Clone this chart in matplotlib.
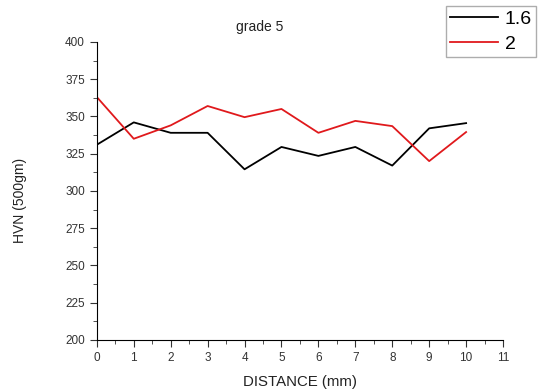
import matplotlib
matplotlib.use("Agg")
import matplotlib.pyplot as plt
from matplotlib.ticker import MultipleLocator

plt.rcParams['font.family'] = ['Liberation Sans', 'DejaVu Sans']

distance = [0, 1, 2, 3, 4, 5, 6, 7, 8, 9, 10]
hvn_16 = [331, 346, 339, 339, 314.5, 329.5, 323.5, 329.5, 317, 342, 345.5]
hvn_2 = [363, 335, 344, 357, 349.5, 355, 339, 347, 343.5, 320, 339.5]
labels = ["1.6", "2"]

fig = plt.figure(figsize=(5.38, 3.92), dpi=100)
ax = fig.add_axes([0.180, 0.133, 0.755, 0.760])

l1, = ax.plot(distance, hvn_16, color="black", lw=1.3)
l2, = ax.plot(distance, hvn_2, color="#e0191c", lw=1.3)

ax.set_xlim(0, 11)
ax.set_ylim(200, 400)
ax.xaxis.set_major_locator(MultipleLocator(1))
ax.xaxis.set_minor_locator(MultipleLocator(0.5))
ax.yaxis.set_major_locator(MultipleLocator(25))
ax.yaxis.set_minor_locator(MultipleLocator(12.5))
for s in ["top", "right"]:
    ax.spines[s].set_visible(False)
ax.tick_params(which="major", direction="out", length=5, labelsize=8.5, colors="#333333")
ax.tick_params(which="minor", direction="out", length=3, color="#333333")

fig.text(260 / 538, 1 - 27 / 392, "grade 5", fontsize=10, color="#222222",
         ha="center", va="center")
ax.set_xlabel("DISTANCE (mm)", fontsize=10.8, color="#222222", labelpad=8)
fig.text(20 / 538, 1 - 200 / 392, "HVN (500gm)", fontsize=10, color="#222222",
         rotation=90, ha="center", va="center")

fig.legend([l1, l2], labels, loc="upper right", bbox_to_anchor=(536 / 538, 1 - 6 / 392),
           fontsize=14, frameon=True, fancybox=False, edgecolor="#999999",
           handlelength=2.5, handletextpad=0.35, borderpad=0.2, labelspacing=0.4,
           borderaxespad=0)

fig.savefig("out.png", dpi=100)
